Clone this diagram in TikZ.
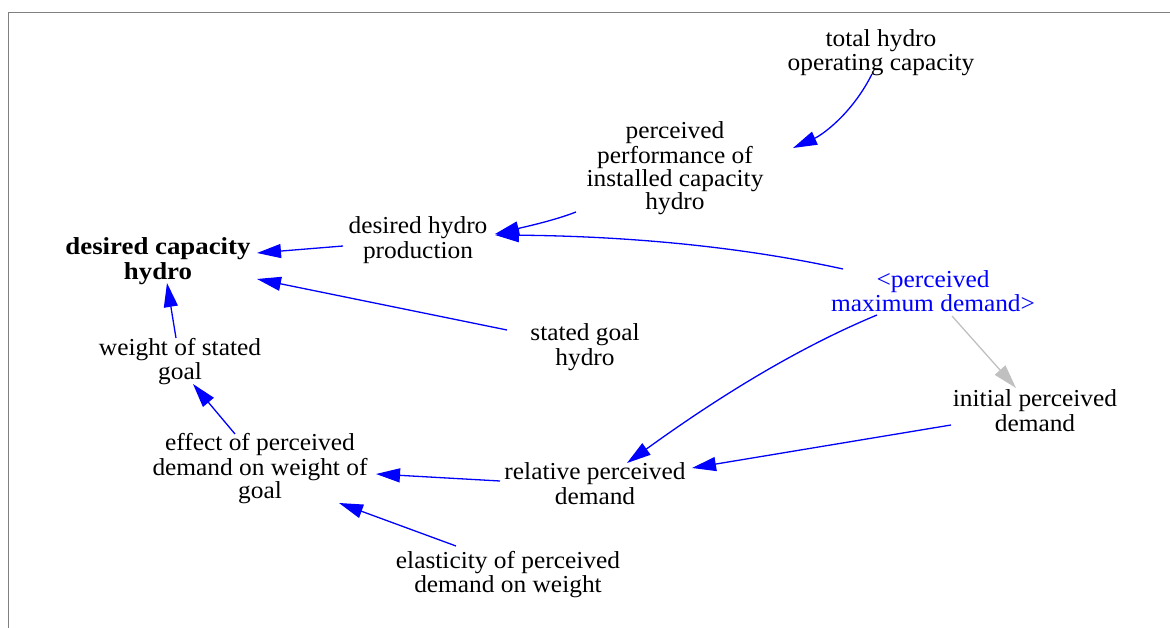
\documentclass[tikz,border=0pt]{standalone}
\usepackage{fontspec}
\setmainfont[FakeStretch=1.04]{Liberation Serif}
\newfontfamily\dchfont[FakeStretch=1.1]{Liberation Serif}
\usetikzlibrary{arrows.meta}
\definecolor{vblue}{RGB}{0,0,255}
\definecolor{framegray}{RGB}{128,128,128}
\definecolor{shadowgray}{RGB}{192,192,192}
\begin{document}
\begin{tikzpicture}[x=1pt,y=-1pt,
  var/.style={align=center, inner sep=0pt, font=\fontsize{24.4}{21.7}\selectfont, text=black},
  link/.style={draw=vblue, line width=1.3pt, -{Triangle[length=24pt,width=14pt]}},
  ghostlink/.style={link, draw=shadowgray}]
\useasboundingbox (0,0) rectangle (1170,628);
\draw[framegray, line width=1.5pt] (8.3,628) -- (8.3,12.3) -- (1170,12.3);

\node[var] (tot) at (881,53.2) {\strut total hydro\\operating capacity\strut};
\node[var] (ppc) at (675,169.2) {\strut perceived\\performance of\\installed capacity\\hydro\strut};
\node[var] (dhp) at (418,240.7) {\strut desired hydro\\production\strut};
\node[var, font=\dchfont\bfseries\fontsize{24.4}{21.7}\selectfont] (dch) at (158,261.7) {\strut desired capacity\\hydro\strut};
\node[var] (sgh) at (585,347.7) {\strut stated goal\\hydro\strut};
\node[var, text=vblue] (pmd) at (933,294.2) {\strut <perceived\\maximum demand>\strut};
\node[var] (wsg) at (180,362.2) {\strut weight of stated\\goal\strut};
\node[var] (ipd) at (1035,413.7) {\strut initial perceived\\demand\strut};
\node[var] (eff) at (260,469.2) {\strut effect of perceived\\demand on weight of\\goal\strut};
\node[var] (rpd) at (595,486.7) {\strut relative perceived\\demand\strut};
\node[var] (epd) at (508,575.2) {\strut elasticity of perceived\\demand on weight\strut};

\draw[link] ([shift={(-9,20.8)}]tot.center) .. controls (852,114) and (822,135) .. ([shift={(118,-21.2)}]ppc.center);
\draw[link] ([shift={(-99,42.8)}]ppc.center) .. controls (553,221) and (520,228) .. ([shift={(77,-6.7)}]dhp.center);
\draw[link] ([shift={(-90,-25.2)}]pmd.center) .. controls (729,244) and (612,236) .. ([shift={(77,-5.7)}]dhp.center);
\draw[link] ([shift={(-75,5.3)}]dhp.center) -- ([shift={(99,-8.7)}]dch.center);
\draw[link] ([shift={(-78,-17.7)}]sgh.center) -- ([shift={(99,17.3)}]dch.center);
\draw[link] ([shift={(-4,-24.2)}]wsg.center) -- ([shift={(9,21.3)}]dch.center);
\draw[link] ([shift={(-25,-35.2)}]eff.center) -- ([shift={(13,21.8)}]wsg.center);
\draw[link] ([shift={(-95,-5.7)}]rpd.center) -- ([shift={(116,4.8)}]eff.center);
\draw[link] ([shift={(-52,-29.2)}]epd.center) -- ([shift={(79,33.8)}]eff.center);
\draw[link] ([shift={(-56,20.8)}]pmd.center) .. controls (788,352) and (706,406) .. ([shift={(32,-23.7)}]rpd.center);
\draw[ghostlink] ([shift={(19,21.8)}]pmd.center) -- ([shift={(-19,-25.7)}]ipd.center);
\draw[link] ([shift={(-84,11.3)}]ipd.center) -- ([shift={(97,-18.7)}]rpd.center);
\end{tikzpicture}
\end{document}
